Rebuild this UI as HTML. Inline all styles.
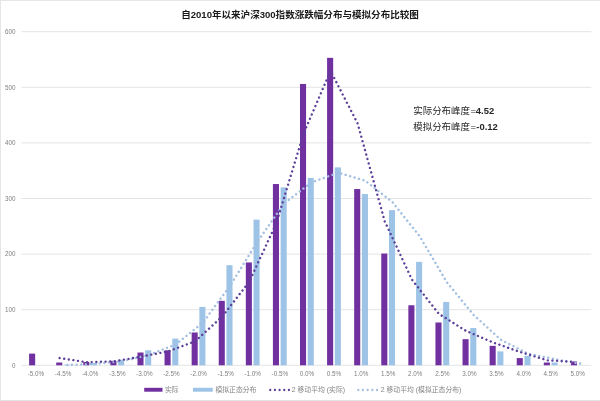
<!DOCTYPE html><html><head><meta charset="utf-8"><title>chart</title><style>
html,body{margin:0;padding:0;background:#fff;width:600px;height:401px;overflow:hidden}
svg{display:block;will-change:transform}
.ax{font-family:"Liberation Sans","Noto Sans CJK SC",sans-serif;font-size:6.3px;fill:#808080}
.lg{font-family:"Liberation Sans","Noto Sans CJK SC",sans-serif;font-size:6.85px;fill:#858585}
.ti{font-family:"Liberation Sans","Noto Sans CJK SC",sans-serif;font-size:9.55px;font-weight:bold;fill:#1a1a1a}
.an{font-family:"Liberation Sans","Noto Sans CJK SC",sans-serif;font-size:9.45px;fill:#262626}
</style></head><body>
<svg width="600" height="401" viewBox="0 0 600 401">
<rect x="0" y="0" width="600" height="1" fill="#E6E6E6"/>
<rect x="0" y="0" width="1" height="401" fill="#E6E6E6"/>
<rect x="0" y="400" width="600" height="1" fill="#E4E4E4"/>
<line x1="21.3" y1="365.3" x2="591.34" y2="365.3" stroke="#E4E4E4" stroke-width="1"/>
<line x1="21.3" y1="309.7" x2="591.34" y2="309.7" stroke="#E4E4E4" stroke-width="1"/>
<line x1="21.3" y1="254.1" x2="591.34" y2="254.1" stroke="#E4E4E4" stroke-width="1"/>
<line x1="21.3" y1="198.5" x2="591.34" y2="198.5" stroke="#E4E4E4" stroke-width="1"/>
<line x1="21.3" y1="142.9" x2="591.34" y2="142.9" stroke="#E4E4E4" stroke-width="1"/>
<line x1="21.3" y1="87.3" x2="591.34" y2="87.3" stroke="#E4E4E4" stroke-width="1"/>
<line x1="21.3" y1="31.7" x2="591.34" y2="31.7" stroke="#E4E4E4" stroke-width="1"/>
<text class="ax" x="15.6" y="367.6" text-anchor="end">0</text>
<text class="ax" x="15.6" y="312" text-anchor="end">100</text>
<text class="ax" x="15.6" y="256.4" text-anchor="end">200</text>
<text class="ax" x="15.6" y="200.8" text-anchor="end">300</text>
<text class="ax" x="15.6" y="145.2" text-anchor="end">400</text>
<text class="ax" x="15.6" y="89.6" text-anchor="end">500</text>
<text class="ax" x="15.6" y="34" text-anchor="end">600</text>
<rect x="29.1" y="353.62" width="6.07" height="11.68" fill="#7030A0"/>
<rect x="56.2" y="362.52" width="6.07" height="2.78" fill="#7030A0"/>
<rect x="63.91" y="364.74" width="6.07" height="0.56" fill="#9DC3E6"/>
<rect x="83.28" y="361.96" width="6.07" height="3.34" fill="#7030A0"/>
<rect x="90.99" y="363.08" width="6.07" height="2.22" fill="#9DC3E6"/>
<rect x="110.38" y="360.85" width="6.07" height="4.45" fill="#7030A0"/>
<rect x="118.08" y="359.74" width="6.07" height="5.56" fill="#9DC3E6"/>
<rect x="137.47" y="352.51" width="6.07" height="12.79" fill="#7030A0"/>
<rect x="145.17" y="350.29" width="6.07" height="15.01" fill="#9DC3E6"/>
<rect x="164.55" y="350.29" width="6.07" height="15.01" fill="#7030A0"/>
<rect x="172.26" y="338.61" width="6.07" height="26.69" fill="#9DC3E6"/>
<rect x="191.64" y="332.5" width="6.07" height="32.8" fill="#7030A0"/>
<rect x="199.35" y="306.92" width="6.07" height="58.38" fill="#9DC3E6"/>
<rect x="218.73" y="300.8" width="6.07" height="64.5" fill="#7030A0"/>
<rect x="226.44" y="265.22" width="6.07" height="100.08" fill="#9DC3E6"/>
<rect x="245.82" y="262.44" width="6.07" height="102.86" fill="#7030A0"/>
<rect x="253.53" y="219.63" width="6.07" height="145.67" fill="#9DC3E6"/>
<rect x="272.91" y="184.04" width="6.07" height="181.26" fill="#7030A0"/>
<rect x="280.62" y="187.38" width="6.07" height="177.92" fill="#9DC3E6"/>
<rect x="300" y="83.96" width="6.07" height="281.34" fill="#7030A0"/>
<rect x="307.71" y="177.93" width="6.07" height="187.37" fill="#9DC3E6"/>
<rect x="327.09" y="57.83" width="6.07" height="307.47" fill="#7030A0"/>
<rect x="334.8" y="167.36" width="6.07" height="197.94" fill="#9DC3E6"/>
<rect x="354.18" y="189.05" width="6.07" height="176.25" fill="#7030A0"/>
<rect x="361.89" y="194.05" width="6.07" height="171.25" fill="#9DC3E6"/>
<rect x="381.27" y="253.54" width="6.07" height="111.76" fill="#7030A0"/>
<rect x="388.98" y="210.18" width="6.07" height="155.12" fill="#9DC3E6"/>
<rect x="408.36" y="305.25" width="6.07" height="60.05" fill="#7030A0"/>
<rect x="416.07" y="261.88" width="6.07" height="103.42" fill="#9DC3E6"/>
<rect x="435.45" y="322.49" width="6.07" height="42.81" fill="#7030A0"/>
<rect x="443.16" y="301.92" width="6.07" height="63.38" fill="#9DC3E6"/>
<rect x="462.54" y="339.17" width="6.07" height="26.13" fill="#7030A0"/>
<rect x="470.25" y="328.05" width="6.07" height="37.25" fill="#9DC3E6"/>
<rect x="489.63" y="345.84" width="6.07" height="19.46" fill="#7030A0"/>
<rect x="497.34" y="351.4" width="6.07" height="13.9" fill="#9DC3E6"/>
<rect x="516.73" y="358.07" width="6.07" height="7.23" fill="#7030A0"/>
<rect x="524.44" y="355.85" width="6.07" height="9.45" fill="#9DC3E6"/>
<rect x="543.82" y="362.52" width="6.07" height="2.78" fill="#7030A0"/>
<rect x="551.53" y="362.52" width="6.07" height="2.78" fill="#9DC3E6"/>
<rect x="570.9" y="361.41" width="6.07" height="3.89" fill="#7030A0"/>
<text class="ax" x="35.99" y="376.4" text-anchor="middle">-5.0%</text>
<text class="ax" x="63.08" y="376.4" text-anchor="middle">-4.5%</text>
<text class="ax" x="90.17" y="376.4" text-anchor="middle">-4.0%</text>
<text class="ax" x="117.27" y="376.4" text-anchor="middle">-3.5%</text>
<text class="ax" x="144.35" y="376.4" text-anchor="middle">-3.0%</text>
<text class="ax" x="171.44" y="376.4" text-anchor="middle">-2.5%</text>
<text class="ax" x="198.53" y="376.4" text-anchor="middle">-2.0%</text>
<text class="ax" x="225.62" y="376.4" text-anchor="middle">-1.5%</text>
<text class="ax" x="252.71" y="376.4" text-anchor="middle">-1.0%</text>
<text class="ax" x="279.81" y="376.4" text-anchor="middle">-0.5%</text>
<text class="ax" x="306.89" y="376.4" text-anchor="middle">0.0%</text>
<text class="ax" x="333.99" y="376.4" text-anchor="middle">0.5%</text>
<text class="ax" x="361.07" y="376.4" text-anchor="middle">1.0%</text>
<text class="ax" x="388.16" y="376.4" text-anchor="middle">1.5%</text>
<text class="ax" x="415.25" y="376.4" text-anchor="middle">2.0%</text>
<text class="ax" x="442.34" y="376.4" text-anchor="middle">2.5%</text>
<text class="ax" x="469.44" y="376.4" text-anchor="middle">3.0%</text>
<text class="ax" x="496.52" y="376.4" text-anchor="middle">3.5%</text>
<text class="ax" x="523.62" y="376.4" text-anchor="middle">4.0%</text>
<text class="ax" x="550.71" y="376.4" text-anchor="middle">4.5%</text>
<text class="ax" x="577.8" y="376.4" text-anchor="middle">5.0%</text>
<path d="M67.34 365.02 L94.43 363.91 L121.52 361.41 L148.61 355.01 L175.7 344.45 L202.79 322.77 L229.88 286.07 L256.97 242.42 L284.06 203.5 L311.15 182.65 L338.24 172.65 L365.33 180.71 L392.42 202.11 L419.51 236.03 L446.6 281.9 L473.69 314.98 L500.78 339.72 L527.87 353.62 L554.96 359.18 L582.05 363.91" fill="none" stroke="#A2BFE0" stroke-width="2.45" stroke-linecap="round" stroke-dasharray="0.01 4.62"/>
<path d="M59.63 358.07 L86.72 362.24 L113.81 361.41 L140.9 356.68 L167.99 351.4 L195.08 341.39 L222.17 316.65 L249.26 281.62 L276.35 223.24 L303.44 134 L330.53 70.9 L357.62 123.44 L384.71 221.3 L411.8 279.4 L438.89 313.87 L465.98 330.83 L493.07 342.5 L520.16 351.96 L547.25 360.3 L574.34 361.96" fill="none" stroke="#5C3F98" stroke-width="2.4" stroke-linecap="round" stroke-dasharray="0.01 4.62"/>
<text class="ti" x="300" y="18.2" text-anchor="middle">自2010年以来沪深300指数涨跌幅分布与模拟分布比较图</text>
<text class="an" x="413.3" y="113.7">实际分布峰度<tspan x="470.5">=</tspan><tspan font-weight="bold" x="475.8">4.52</tspan></text>
<text class="an" x="413.3" y="129.7">模拟分布峰度<tspan x="470.5">=</tspan><tspan font-weight="bold" x="476.3">-0.12</tspan></text>
<rect x="144.2" y="387.8" width="18.3" height="3.9" fill="#7030A0"/>
<text class="lg" x="165" y="392.4">实际</text>
<rect x="193" y="387.8" width="19.8" height="3.9" fill="#9DC3E6"/>
<text class="lg" x="215.4" y="392.4">模拟正态分布</text>
<line x1="270.25" y1="390" x2="289.5" y2="390" stroke="#5C3F98" stroke-width="2.3" stroke-linecap="round" stroke-dasharray="0.01 4.66"/>
<text class="lg" x="291.8" y="392.4">2 移动平均 (实际)</text>
<line x1="358.3" y1="390" x2="380" y2="390" stroke="#A2BFE0" stroke-width="2.3" stroke-linecap="round" stroke-dasharray="0.01 4.66"/>
<text class="lg" x="380.8" y="392.4">2 移动平均 (模拟正态分布)</text>
</svg></body></html>
